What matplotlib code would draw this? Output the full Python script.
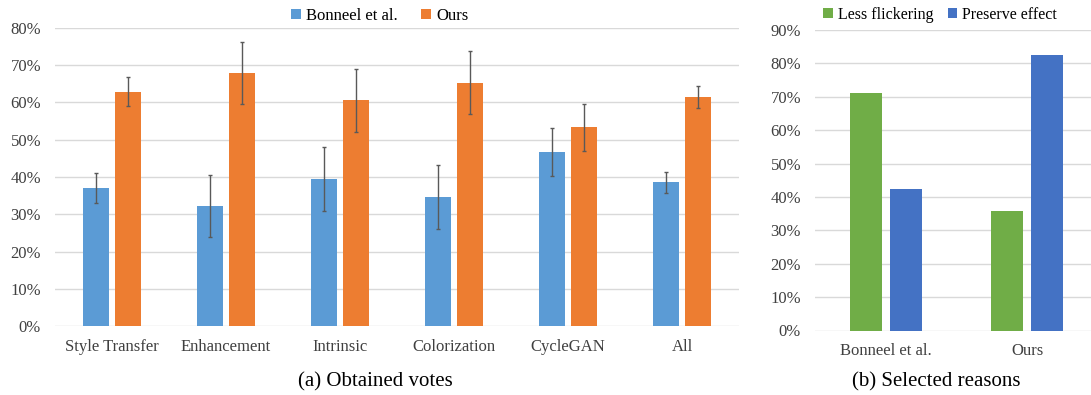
import numpy as np
import matplotlib.pyplot as plt

# (a) obtained votes
tasks = ["Style Transfer", "Enhancement", "Intrinsic", "Colorization", "CycleGAN", "All"]
bonneel = [37.0, 32.2, 39.5, 34.6, 46.7, 38.6]
bonneel_err = [4.0, 8.4, 8.5, 8.6, 6.4, 2.8]
ours = [62.9, 67.8, 60.5, 65.3, 53.3, 61.4]
ours_err = [3.8, 8.3, 8.5, 8.5, 6.3, 2.9]

# (b) selected reasons
methods = ["Bonneel et al.", "Ours"]
less_flicker = [71.1, 35.7]
preserve = [42.4, 82.4]

plt.rcParams['font.family'] = ['Liberation Serif', 'DejaVu Serif']
W, H = 1091, 395
fig = plt.figure(figsize=(W / 100, H / 100), dpi=100)

def px_axes(x0, y0, x1, y1):
    return fig.add_axes([x0 / W, 1 - y1 / H, (x1 - x0) / W, (y1 - y0) / H])

def style(ax, ymax, step):
    ax.set_ylim(0, ymax)
    ticks = np.arange(0, ymax + 0.01, step)
    ax.set_yticks(ticks)
    ax.set_yticklabels([f"{int(t)}%" for t in ticks])
    ax.yaxis.grid(True, color='#d9d9d9', lw=1)
    ax.set_axisbelow(True)
    for s in ax.spines.values():
        s.set_visible(False)
    ax.tick_params(length=0, labelsize=12, colors='#404040')
    ax.tick_params(axis='y', pad=10)
    ax.tick_params(axis='x', pad=9, labelsize=12)

bw, off = 0.225, 0.142

ax1 = px_axes(55, 27.7, 739, 326.3)
x = np.arange(len(tasks))
ax1.bar(x - off, bonneel, bw, color='#5b9bd5', label='Bonneel et al.')
ax1.bar(x + off, ours, bw, color='#ed7d31', label='Ours')
ax1.errorbar(x - off, bonneel, yerr=bonneel_err, fmt='none', ecolor='#595959', elinewidth=1, capsize=1.2)
ax1.errorbar(x + off, ours, yerr=ours_err, fmt='none', ecolor='#595959', elinewidth=1, capsize=1.2)
ax1.set_xlim(-0.5, len(tasks) - 0.5)
ax1.set_xticks(x)
ax1.set_xticklabels(tasks)
style(ax1, 80, 10)
ax1.legend(loc='center', bbox_to_anchor=(380 / W, 1 - 16 / H), bbox_transform=fig.transFigure,
           ncol=2, frameon=False, fontsize=12, handlelength=0.6, handleheight=0.6,
           handletextpad=0.3, columnspacing=1.4)

ax2 = px_axes(815, 30, 1091, 330.5)
x2 = np.arange(len(methods))
ax2.bar(x2 - off, less_flicker, bw, color='#70ad47', label='Less flickering')
ax2.bar(x2 + off, preserve, bw, color='#4472c4', label='Preserve effect')
ax2.set_xlim(-0.5, 1.45)
ax2.set_xticks(x2)
ax2.set_xticklabels(methods)
style(ax2, 90, 10)
ax2.legend(loc='center', bbox_to_anchor=(940 / W, 1 - 15 / H), bbox_transform=fig.transFigure,
           ncol=2, frameon=False, fontsize=11.5, handlelength=0.6, handleheight=0.6,
           handletextpad=0.3, columnspacing=0.9)

fig.text(375 / W, 1 - 382 / H, "(a) Obtained votes", ha='center', va='center', fontsize=15)
fig.text(936 / W, 1 - 382 / H, "(b) Selected reasons", ha='center', va='center', fontsize=15)

fig.savefig("out.png", dpi=100)
